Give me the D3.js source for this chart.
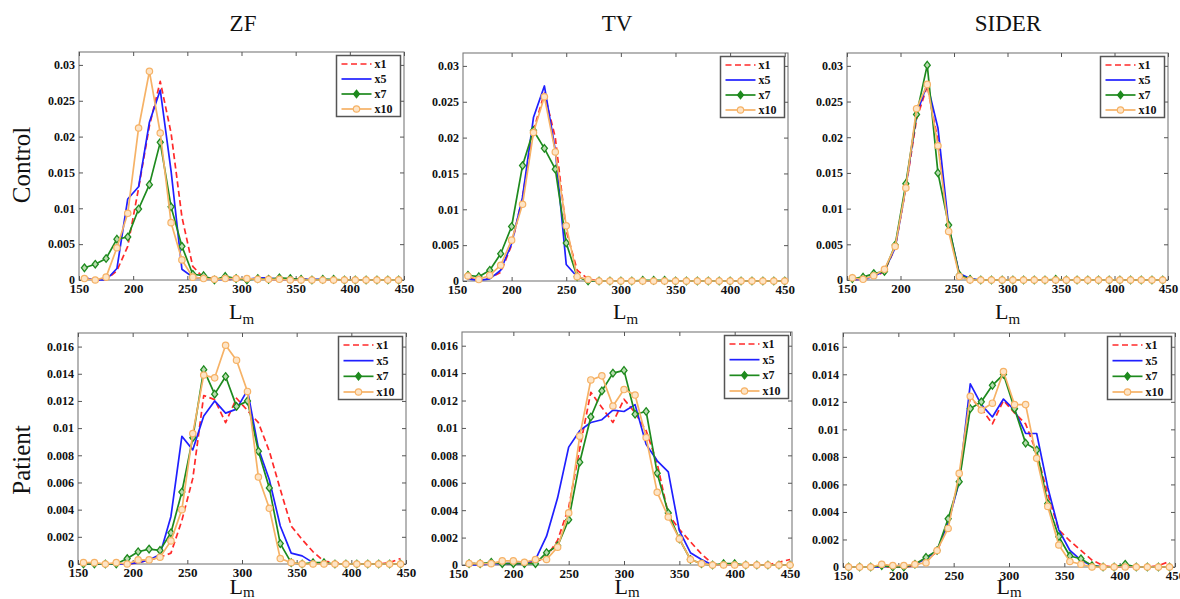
<!DOCTYPE html>
<html><head><meta charset="utf-8">
<script src="https://cdn.jsdelivr.net/npm/d3@7"></script>
<style>body{margin:0;background:#fff} svg{display:block} text{font-family:'Liberation Serif','Times New Roman',serif}</style>
</head><body><svg id="c" width="1180" height="599"></svg>
<script>
// ---------- DATA ----------
const binsZS = [155,165,175,185,195,205,215,225,235,245,255,265,275,285,295,305,315,325,335,345,355,365,375,385,395,405,415,425,435,445];
const binsTV = [160,170,180,190,200,210,220,230,240,250,260,270,280,290,300,310,320,330,340,350,360,370,380,390,400,410,420,430,440,450];
const seriesNames = ["x1","x5","x7","x10"];
const columnTitles = ["ZF","TV","SIDER"];
const rowTitles = ["Control","Patient"];
const xTickValues = [150,200,250,300,350,400,450];
const xTickLabels = ["150","200","250","300","350","400","450"];
const yTicksControl = [0,0.005,0.01,0.015,0.02,0.025,0.03];
const yTickLabelsControl = ["0","0.005","0.01","0.015","0.02","0.025","0.03"];
const yTicksPatient = [0,0.002,0.004,0.006,0.008,0.01,0.012,0.014,0.016];
const yTickLabelsPatient = ["0","0.002","0.004","0.006","0.008","0.01","0.012","0.014","0.016"];

// ZF control
const zfControlX1  = [0.0003,0,0,0.0013,0.0047,0.0128,0.0215,0.0277,0.0205,0.0088,0.0019,0.0003,0.0002,0.0001,0.0001,0.0001,0.0002,0.0001,0.0001,0.0001,0.0001,0.0001,0,0,0,0,0,0,0,0];
const zfControlX5  = [0.0003,0,0,0.0016,0.0113,0.013,0.022,0.0265,0.0152,0.0015,0.0004,0.0002,0.0001,0.0001,0.0002,0.0001,0.0003,0.0003,0.0001,0.0001,0.0001,0.0001,0.0001,0,0,0,0,0,0,0];
const zfControlX7  = [0.0017,0.0022,0.003,0.0057,0.006,0.0099,0.0133,0.0192,0.0102,0.0047,0.0008,0.0006,0,0.0005,0.0002,0,0.0002,0.0001,0.0003,0.0002,0.0001,0,0.0001,0.0001,0,0,0,0,0,0];
const zfControlX10 = [0.0002,0,0.0004,0.0045,0.0093,0.0212,0.0291,0.0205,0.008,0.0028,0.0004,0.0002,0.0001,0.0002,0.0002,0.0002,0.0001,0.0001,0.0001,0,0,0,0,0,0,0,0,0,0,0];
// TV control
const tvControlX1  = [0.0005,0.0001,0.0004,0.0012,0.005,0.0118,0.021,0.0262,0.02,0.007,0.0015,0.0003,0,0,0,0,0,0,0,0,0,0,0,0,0,0,0,0,0,0];
const tvControlX5  = [0.0003,0.0001,0.0003,0.0015,0.0052,0.0117,0.0228,0.0272,0.0182,0.0023,0.0006,0.0001,0,0,0,0,0,0,0,0,0,0,0,0,0,0,0,0,0,0];
const tvControlX7  = [0.0008,0.0006,0.0015,0.0038,0.0076,0.0161,0.021,0.0185,0.0156,0.0053,0.0006,0,0,0,0,0,0.0001,0.0001,0.0001,0,0,0,0,0,0,0,0,0,0,0];
const tvControlX10 = [0.0007,0.0002,0.0008,0.0022,0.0057,0.0107,0.0207,0.0257,0.018,0.0077,0.0006,0.0002,0,0,0,0,0,0,0,0,0,0,0,0,0,0,0,0,0,0];
// SIDER control
const siderControlX1  = [0.0001,0.0001,0.0004,0.0012,0.0045,0.0128,0.0225,0.0272,0.0195,0.0072,0.0008,0.0001,0,0,0,0,0,0,0,0,0,0,0,0,0,0,0,0,0,0];
const siderControlX5  = [0.0001,0.0001,0.0005,0.0013,0.0045,0.013,0.0232,0.0275,0.0213,0.0075,0.0009,0.0002,0,0,0,0,0,0,0,0,0,0,0,0,0,0,0,0,0,0];
const siderControlX7  = [0.0002,0.0004,0.0009,0.0012,0.0049,0.0135,0.0232,0.0301,0.015,0.0077,0.0007,0.0001,0,0,0,0,0,0,0,0.0001,0,0,0,0,0,0,0,0,0,0];
const siderControlX10 = [0.0003,0.0001,0.0006,0.0015,0.0047,0.0129,0.024,0.0274,0.0188,0.0068,0.0005,0,0,0,0,0,0,0,0,0,0,0,0,0,0,0,0,0,0,0];
// ZF patient
const zfPatientX1  = [0,0,0,0,0,0.0001,0.0003,0.0005,0.0008,0.0032,0.0063,0.0124,0.0121,0.0104,0.0122,0.0113,0.0104,0.0083,0.0055,0.0028,0.0018,0.0009,0.0002,0.0001,0,0,0,0,0.0001,0.0004];
const zfPatientX5  = [0,0,0,0,0,0.0001,0.0003,0.0007,0.0035,0.0094,0.0084,0.0109,0.012,0.0111,0.0114,0.0128,0.0085,0.0062,0.0028,0.0008,0.0006,0.0001,0,0,0,0,0,0,0,0];
const zfPatientX7  = [0,0,0,0,0.0004,0.0009,0.0011,0.001,0.0023,0.0053,0.0093,0.0143,0.0125,0.0138,0.0116,0.012,0.0083,0.0056,0.0015,0.0001,0,0.0001,0.0001,0,0,0,0,0,0,0];
const zfPatientX10 = [0.0001,0.0001,0,0.0001,0,0.0003,0.0003,0.0005,0.0017,0.004,0.0096,0.0139,0.0137,0.0161,0.015,0.0127,0.0064,0.0041,0.0004,0.0001,0,0,0,0,0,0,0,0,0,0];
// TV patient
const tvPatientX1  = [0.0001,0.0001,0.0001,0.0001,0.0001,0.0001,0.0002,0.0006,0.0018,0.0042,0.0085,0.0126,0.0115,0.0104,0.0121,0.0111,0.0098,0.0074,0.0037,0.0026,0.0017,0.0008,0.0001,0,0,0,0,0,0.0002,0.0004];
const tvPatientX5  = [0,0,0.0001,0.0001,0.0001,0.0001,0.0004,0.0021,0.0049,0.0086,0.0098,0.0104,0.0106,0.0113,0.0112,0.0117,0.0088,0.0076,0.0068,0.0025,0.0009,0.0004,0,0,0,0,0,0,0,0];
const tvPatientX7  = [0.0001,0.0001,0.0002,0.0001,0.0001,0.0001,0.0001,0.0009,0.0014,0.0033,0.0075,0.0108,0.0127,0.014,0.0142,0.011,0.0112,0.0067,0.0038,0.0019,0.0004,0.0001,0,0.0001,0.0001,0,0,0,0,0];
const tvPatientX10 = [0.0001,0.0001,0.0001,0.0003,0.0003,0.0002,0.0004,0.0004,0.0013,0.0038,0.0094,0.0135,0.0138,0.0116,0.0128,0.0124,0.0093,0.0053,0.0035,0.0019,0.0004,0.0001,0,0,0,0,0,0,0,0];
// SIDER patient
const siderPatientX1  = [0,0,0,0,0,0,0.0001,0.0005,0.0011,0.0032,0.0063,0.0123,0.0115,0.0104,0.0121,0.0112,0.0104,0.0083,0.0053,0.0027,0.0019,0.0012,0.0005,0.0001,0,0,0,0,0.0001,0.0004];
const siderPatientX5  = [0,0,0,0,0.0001,0,0.0002,0.0006,0.0012,0.0032,0.0062,0.0133,0.0118,0.0109,0.0122,0.0114,0.0097,0.0097,0.0058,0.0027,0.0012,0.0005,0.0001,0,0,0,0,0,0,0];
const siderPatientX7  = [0,0,0,0.0001,0,0,0.0002,0.0007,0.0012,0.0035,0.0062,0.0115,0.012,0.0132,0.014,0.0115,0.009,0.0085,0.0046,0.0022,0.0008,0.0006,0.0001,0,0,0.0002,0,0,0,0];
const siderPatientX10 = [0,0,0,0.0002,0.0001,0.0001,0.0002,0.0003,0.0012,0.0028,0.0068,0.0124,0.0114,0.0119,0.0142,0.0118,0.0118,0.0079,0.0044,0.0016,0.0004,0.0002,0,0,0,0,0,0,0,0];

// ---------- LAYOUT ----------
const panels = [
  {row:0,col:0,bins:binsZS,series:[zfControlX1,zfControlX5,zfControlX7,zfControlX10],   box:[79,404,52,280],  xd:[150,450]},
  {row:0,col:1,bins:binsTV,series:[tvControlX1,tvControlX5,tvControlX7,tvControlX10],   box:[463,788,53,281], xd:[155.5,453]},
  {row:0,col:2,bins:binsZS,series:[siderControlX1,siderControlX5,siderControlX7,siderControlX10], box:[847,1168,53,280], xd:[150,450]},
  {row:1,col:0,bins:binsZS,series:[zfPatientX1,zfPatientX5,zfPatientX7,zfPatientX10],   box:[78,406,333,564], xd:[150,450]},
  {row:1,col:1,bins:binsTV,series:[tvPatientX1,tvPatientX5,tvPatientX7,tvPatientX10],   box:[462,792,332,565],xd:[153.6,451.8]},
  {row:1,col:2,bins:binsZS,series:[siderPatientX1,siderPatientX5,siderPatientX7,siderPatientX10], box:[843,1175,333,567], xd:[150,450]}
];
const styles = [
  {color:"#ff2a2a", dash:"6,3.5", marker:null},
  {color:"#1f1fff", dash:null, marker:null},
  {color:"#1e8a1e", dash:null, marker:"diamond", fill:"#b9dcb0"},
  {color:"#f6b266", dash:null, marker:"circle", fill:"#fde4c6"}
];
const serif = "'Liberation Serif','Times New Roman',serif";
const svg = d3.select("#c");
svg.append("rect").attr("width",1180).attr("height",599).attr("fill","#fff");

// column titles
const titleX = [243, 617, 1008];
columnTitles.forEach((t,i)=>{
  svg.append("text").attr("x",titleX[i]).attr("y",31).attr("text-anchor","middle")
    .style("font-family",serif).attr("font-size",23).attr("fill","#111").text(t);
});
// row titles
const rowY = [165, 460];
rowTitles.forEach((t,i)=>{
  svg.append("text").attr("transform",`translate(30,${rowY[i]}) rotate(-90)`)
    .attr("text-anchor","middle").style("font-family",serif).attr("font-size",25).attr("fill","#111").text(t);
});

panels.forEach(p=>{
  const [bx0,bx1,by0,by1] = p.box;
  const x = d3.scaleLinear().domain(p.xd).range([bx0,bx1]);
  const ymax = p.row===0 ? 0.0318 : 0.017;
  const y = d3.scaleLinear().domain([0,ymax]).range([by1,by0]);
  const yT = p.row===0 ? yTicksControl : yTicksPatient;
  const yL = p.row===0 ? yTickLabelsControl : yTickLabelsPatient;
  const g = svg.append("g");

  // box
  g.append("rect").attr("x",bx0).attr("y",by0).attr("width",bx1-bx0).attr("height",by1-by0)
    .attr("fill","#fff").attr("stroke","#7a7a7a").attr("stroke-width",1.1);

  const inRange = v => x(v) >= bx0-0.5 && x(v) <= bx1+0.5;
  // bottom axis
  const ax = g.append("g").attr("transform",`translate(0,${by1})`)
    .call(d3.axisBottom(x).tickValues(xTickValues).tickFormat((d,i)=>xTickLabels[i]).tickSizeInner(-4).tickSizeOuter(0).tickPadding(4));
  ax.attr("font-family",null);
  ax.select(".domain").remove();
  ax.selectAll(".tick").each(function(d){ if(!inRange(d)) d3.select(this).select("line").remove(); });
  ax.selectAll("line").attr("stroke","#555");
  ax.selectAll("text").style("font-family",serif).attr("font-size",13).attr("font-weight","bold").attr("fill","#111");
  // top ticks
  const axt = g.append("g").attr("transform",`translate(0,${by0})`)
    .call(d3.axisTop(x).tickValues(xTickValues.filter(inRange)).tickFormat("").tickSizeInner(-4).tickSizeOuter(0));
  axt.select(".domain").remove(); axt.selectAll("line").attr("stroke","#555");
  // left axis
  const ay = g.append("g").attr("transform",`translate(${bx0},0)`)
    .call(d3.axisLeft(y).tickValues(yT).tickFormat((d,i)=>yL[i]).tickSizeInner(-4).tickSizeOuter(0).tickPadding(4));
  ay.attr("font-family",null);
  ay.select(".domain").remove();
  ay.selectAll("line").attr("stroke","#555");
  ay.selectAll("text").style("font-family",serif).attr("font-size",12).attr("font-weight","bold").attr("fill","#111");
  // right ticks
  const ayr = g.append("g").attr("transform",`translate(${bx1},0)`)
    .call(d3.axisRight(y).tickValues(yT).tickFormat("").tickSizeInner(-4).tickSizeOuter(0));
  ayr.select(".domain").remove(); ayr.selectAll("line").attr("stroke","#555");

  // series
  const line = d3.line().x(d=>x(d[0])).y(d=>y(d[1]));
  p.series.forEach((vals,si)=>{
    const st = styles[si];
    const pts = p.bins.map((b,i)=>[b,vals[i]]);
    g.append("path").attr("d",line(pts)).attr("fill","none").attr("stroke",st.color)
      .attr("stroke-width",1.7).attr("stroke-dasharray",st.dash).attr("stroke-linejoin","round");
    if(st.marker==="diamond"){
      g.selectAll(null).data(pts).enter().append("path")
        .attr("d","M0,-3.8L3,0L0,3.8L-3,0Z").attr("transform",d=>`translate(${x(d[0])},${y(d[1])})`)
        .attr("fill",st.fill).attr("stroke",st.color).attr("stroke-width",1.3);
    } else if(st.marker==="circle"){
      g.selectAll(null).data(pts).enter().append("circle")
        .attr("cx",d=>x(d[0])).attr("cy",d=>y(d[1])).attr("r",3.2)
        .attr("fill",st.fill).attr("stroke",st.color).attr("stroke-width",1.2);
    }
  });

  // legend
  const lw = 64, lh = p.row===0 ? 61 : 63;
  const lx = bx1 - 3.5 - lw, ly = by0 + 3.5;
  const lg = g.append("g").attr("transform",`translate(${lx},${ly})`);
  lg.append("rect").attr("width",lw).attr("height",lh).attr("fill","#fff").attr("stroke","#555").attr("stroke-width",1.5);
  const step = (lh-16)/3;
  seriesNames.forEach((n,si)=>{
    const st = styles[si];
    const ey = 8.5 + si*step;
    lg.append("line").attr("x1",5).attr("x2",35).attr("y1",ey).attr("y2",ey)
      .attr("stroke",st.color).attr("stroke-width",1.7).attr("stroke-dasharray",st.dash);
    if(st.marker==="diamond"){
      lg.append("path").attr("d","M0,-3.8L3,0L0,3.8L-3,0Z").attr("transform",`translate(20,${ey})`)
        .attr("fill",st.color).attr("stroke",st.color).attr("stroke-width",1.2);
    } else if(st.marker==="circle"){
      lg.append("circle").attr("cx",20).attr("cy",ey).attr("r",3.2).attr("fill",st.fill).attr("stroke",st.color).attr("stroke-width",1.2);
    }
    lg.append("text").attr("x",38).attr("y",ey+4).style("font-family",serif).attr("font-size",12)
      .attr("font-weight","bold").attr("fill","#111").text(n);
  });

  // x label L_m
  const cx = (bx0+bx1)/2;
  const t = g.append("text").attr("x",cx).attr("y",p.row===0 ? 319 : 594).attr("text-anchor","middle")
    .style("font-family",serif).attr("font-size",22).attr("fill","#111");
  t.append("tspan").text("L");
  t.append("tspan").attr("font-size",15).attr("dy",p.row===0 ? 5 : 3).text("m");
});
</script>
</body></html>
